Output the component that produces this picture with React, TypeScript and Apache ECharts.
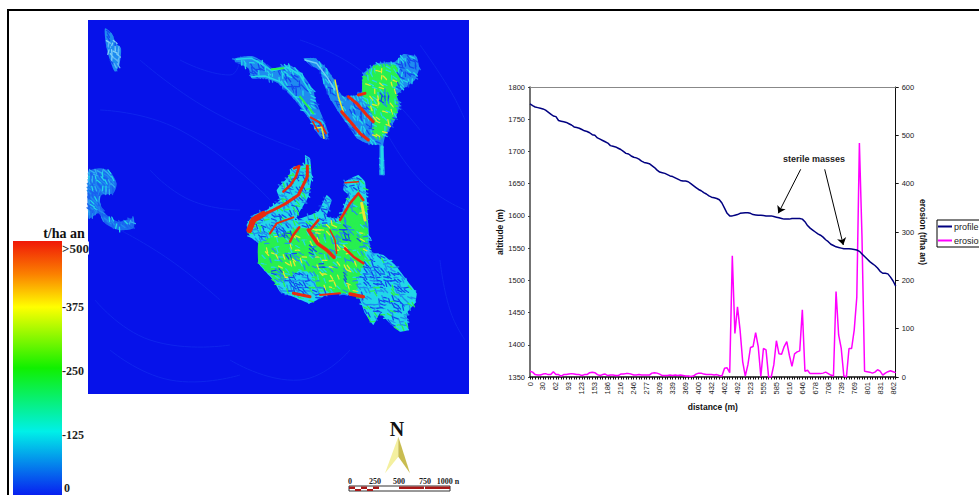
import React, { useEffect, useRef } from "react";
import * as echarts from "echarts";

const distanceLabels = ["0","30","62","93","123","153","186","216","246","277","309","339","369","400","432","462","492","523","555","585","616","646","678","708","739","769","801","831","862"];
const profile = [1774,1771,1769,1768,1767,1766,1764,1761,1758,1755,1754,1748,1747,1746,1745,1743,1741,1738,1737,1736,1734,1732,1731,1729,1726,1725,1721,1719,1717,1715,1713,1709,1708,1707,1705,1703,1700,1697,1696,1693,1691,1690,1688,1685,1683,1682,1681,1678,1675,1671,1668,1667,1666,1664,1662,1661,1659,1657,1655,1654,1654,1653,1650,1647,1644,1641,1639,1636,1634,1631,1629,1628,1627,1625,1620,1612,1604,1600,1600,1601,1602,1604,1604.5,1605,1605,1604,1602,1601.5,1601,1601,1600.5,1600,1600,1600,1599,1598,1597,1596,1595,1595,1595,1596,1596,1596,1596,1595,1591,1585,1581,1578,1575,1572,1570,1567,1563,1560,1556,1554,1552,1551,1550,1549,1549,1549,1548.5,1548,1547,1545,1541,1537,1533,1529,1526,1523,1519,1514,1511,1511,1510,1505,1499,1491];
const erosion = [12,10,5,4,4,6,7,5,5,11,5,5,2,5,5,6,7,6,5,5,3,5,5,9,10,9,5,3,5,6,3,4,4,3,3,6,6,7,7,6,4,4,5,4,4,4,4,8,9,8,6,3,3,3,4,3,4,3,4,3,2,2,1,2,6,8,8,6,5,5,5,4,5,3,2,18,19,9,251,90,145,97,32,2,25,61,63,92,63,1,59,56,0,0,25,75,48,47,63,73,45,22,48,52,54,139,12,14,7,7,7,7,7,8,10,7,4,2,177,87,59,2,0,59,59,97,165,484,290,12,11,10,8,10,15,12,4,8,11,13,11,9];
const altitudeRange = [1350, 1800];
const erosionRange = [0, 600];
const colorbarLabels = [">500", "375", "250", "125", "0"];
const scaleLabels = ["0", "250", "500", "750", "1000 n"];

const categories = profile.map((_, i) => (i % 5 === 0 ? distanceLabels[i / 5] : ""));
const SANS = "'Liberation Sans', Arial, sans-serif";
const SERIF = "'Liberation Serif', 'DejaVu Serif', serif";

type P = number[];
const map = (ox: number, oy: number, pts: P[]) => pts.map(([x, y]) => [ox + x / 3, oy + y / 3]);
const poly = (ox: number, oy: number, pts: P[], fill: string, smooth = 0.25) => ({
  type: "polygon", silent: true, shape: { points: map(ox, oy, pts), smooth }, style: { fill },
});
const stroke = (ox: number, oy: number, pts: P[], color: string, lineWidth = 1.5) => ({
  type: "polyline", silent: true, shape: { points: map(ox, oy, pts) },
  style: { stroke: color, lineWidth, fill: "none", lineJoin: "round", lineCap: "round" },
});

const BG = "#0612ea", BLUE = "#1248f0", MID = "#1f8cf0", CYAN = "#22d8e8", GREEN = "#28f050", YEL = "#e8e830", RED = "#e82a10";

const inside = (px: number, py: number, pts: P[]) => {
  let c = false;
  for (let i = 0, j = pts.length - 1; i < pts.length; j = i++) {
    const [xi, yi] = pts[i], [xj, yj] = pts[j];
    if (yi > py !== yj > py && px < ((xj - xi) * (py - yi)) / (yj - yi) + xi) c = !c;
  }
  return c;
};
const grain = (x: number, y: number) => {
  const v = Math.sin(x * 12.9898 + y * 78.233) * 43758.5453;
  return v - Math.floor(v);
};
type Hole = number[];
const texture = (outline: P[], core: P[] | null, holes: Hole[], rim: string[], corePal: string[], dir: number, w = 1.3) => {
  const xs = outline.map((p) => p[0]), ys = outline.map((p) => p[1]);
  const out: any[] = [];
  const step = 3.4;
  for (let x = Math.min(...xs); x < Math.max(...xs); x += step) {
    for (let y = Math.min(...ys); y < Math.max(...ys); y += step) {
      if (!inside(x, y, outline)) continue;
      const g = grain(x, y), h = grain(y + 3.1, x + 7.7);
      const inHole = holes.some(([cx, cy, rx, ry]) => ((x - cx) / rx) ** 2 + ((y - cy) / ry) ** 2 < 1);
      const pal = inHole ? [BLUE, BLUE, MID, BLUE, MID, CYAN] : core && inside(x, y, core) ? corePal : rim;
      const a = dir + (h - 0.5) * 1.6;
      out.push({
        type: "line", silent: true,
        shape: { x1: x - Math.cos(a) * 2.4, y1: y - Math.sin(a) * 2.4, x2: x + Math.cos(a) * 2.4, y2: y + Math.sin(a) * 2.4 },
        style: { stroke: pal[Math.floor(g * pal.length)], lineWidth: w, lineCap: "round" },
      });
    }
  }
  return out;
};
const H = (ox: number, oy: number, list: number[][]) => list.map(([x, y, rx, ry]) => [ox + x / 3, oy + y / 3, rx / 3, ry / 3]);

const faint = [
  [[140,60],[210,110],[300,150]], [[100,110],[180,130],[270,200]], [[300,40],[360,70],[420,130]],
  [[380,120],[420,180],[465,210]], [[120,230],[170,260],[220,300]], [[95,300],[150,340],[230,345]],
  [[230,360],[300,380],[350,350]], [[440,260],[450,310],[465,340]], [[420,45],[450,90],[465,120]],
  [[150,170],[190,200],[240,210]], [[180,60],[230,75],[240,60]], [[110,350],[170,380],[240,375]],
];

const blobTL = [[75,40],[95,55],[108,85],[123,100],[118,150],[105,170],[90,135],[78,90]];
const blobL = [[12,35],[45,25],[75,35],[95,70],[85,100],[50,105],[45,125],[60,160],[100,185],[145,175],[145,205],[100,210],[60,190],[40,160],[12,175]];
const blobC = [[45,55],[95,48],[130,65],[155,85],[205,75],[240,95],[280,150],[285,175],[305,225],[322,270],[322,298],[300,290],[270,240],[220,175],[175,130],[130,115],[95,115],[85,85],[45,65]];
const blobD = [[250,55],[285,55],[320,85],[345,125],[365,170],[410,165],[425,155],[430,100],[470,70],[525,65],[550,42],[590,50],[598,85],[585,120],[545,150],[530,165],[540,195],[525,240],[495,290],[490,315],[495,405],[478,405],[478,315],[465,315],[440,310],[410,295],[380,250],[355,215],[330,175],[310,130],[300,90],[270,75]];
const coreD = [[430,110],[470,75],[525,75],[540,120],[525,150],[535,195],[515,245],[480,300],[462,290],[460,230],[430,175]];
const blobE = [[225,45],[240,55],[245,110],[235,170],[215,205],[195,240],[225,230],[265,215],[290,165],[305,180],[290,230],[330,235],[345,190],[355,165],[340,150],[345,125],[385,105],[405,125],[410,180],[415,250],[420,335],[460,345],[500,380],[530,420],[560,460],[555,490],[530,520],[535,570],[510,575],[475,545],[450,520],[430,555],[405,520],[385,470],[300,460],[240,490],[190,470],[150,455],[130,420],[85,370],[85,310],[60,290],[50,255],[70,225],[110,210],[150,180],[140,150],[175,110],[190,80],[225,75]];
const coreE = [[85,310],[130,290],[200,265],[235,265],[330,240],[385,165],[410,200],[415,300],[400,370],[385,420],[380,465],[300,455],[260,440],[250,400],[210,390],[155,425],[130,415],[85,365]];

const holesC = H(220, 40, [[120,92,28,14],[230,130,34,24],[285,205,10,20],[190,110,18,12]]);
const holesD = H(220, 40, [[565,78,24,26],[495,175,15,24],[425,200,22,12],[425,245,18,10],[330,140,8,22],[400,270,10,12]]);
const holesE = H(230, 140, [[100,285,16,18],[160,275,26,18],[170,225,25,14],[205,430,40,30],[350,275,15,28],[385,290,8,18],[440,410,44,30],[510,500,24,22],[515,455,12,12],[470,472,22,13],[250,330,12,15],[275,380,10,16],[345,410,8,16],[180,345,18,10],[140,395,14,10],[200,120,8,25],[370,145,18,12],[280,200,10,28],[500,400,18,12],[450,510,14,10]]);

const rimC = [MID, MID, CYAN, BLUE, MID, CYAN];
const palE = [CYAN, MID, CYAN, BLUE, GREEN, MID];
const coreEP = [GREEN, GREEN, CYAN, GREEN, YEL, GREEN, MID, GREEN];
const coreDP = [GREEN, GREEN, GREEN, CYAN, GREEN, YEL];

const mapElements: any[] = [
  { type: "rect", silent: true, shape: { x: 88, y: 20, width: 381, height: 374 }, style: { fill: BG } },
  ...faint.map((f) => ({ type: "polyline", silent: true, shape: { points: f, smooth: 0.5 }, style: { stroke: "#0e24ee", lineWidth: 1, fill: "none" } })),
  poly(80, 15, blobTL, MID),
  ...texture(map(80, 15, blobTL), null, [], [MID, "#60b8f8", BLUE, MID, "#80d0f8"], 0.1, 1.2),
  poly(85, 160, blobL, "#1a70f0"),
  ...texture(map(85, 160, blobL), null, [], ["#1a60f0", MID, "#30b0f0", "#1a60f0", CYAN, MID], 1, 1.2),
  poly(220, 40, blobC, MID),
  ...texture(map(220, 40, blobC), null, holesC, rimC, rimC, 0.8),
  stroke(220, 40, [[50,58],[95,55],[130,75],[155,92],[205,82],[240,105],[272,160]], CYAN, 1.5),
  stroke(220, 40, [[95,110],[135,108],[180,125],[225,170],[272,232]], CYAN, 1.5),
  stroke(220, 40, [[155,88],[190,85]], GREEN, 2), stroke(220, 40, [[240,170],[280,220]], GREEN, 2),
  stroke(220, 40, [[272,232],[300,248],[318,280]], RED, 2), stroke(220, 40, [[285,265],[305,262],[312,295]], YEL, 1.5),
  stroke(220, 40, [[278,245],[295,275]], RED, 1.5),
  poly(220, 40, blobD, MID, 0.1),
  poly(220, 40, coreD, GREEN),
  ...texture(map(220, 40, blobD), map(220, 40, coreD), holesD, rimC, coreDP, 1.0),
  stroke(220, 40, [[255,60],[290,70],[320,110],[345,150]], "#70d0f8", 1.5),
  stroke(220, 40, [[345,120],[355,170],[370,215]], YEL, 1.5),
  stroke(220, 40, [[385,170],[410,190],[440,225],[460,245]], RED, 3),
  stroke(220, 40, [[365,215],[395,250],[420,280],[445,300]], RED, 3),
  stroke(220, 40, [[415,165],[435,160]], RED, 3),
  stroke(220, 40, [[486,320],[486,400]], CYAN, 3),
  poly(230, 140, blobE, CYAN, 0.1),
  poly(230, 140, coreE, GREEN, 0.1),
  ...texture(map(230, 140, blobE), map(230, 140, coreE), holesE, palE, coreEP, 0.6),
  stroke(230, 140, [[395,190],[405,240]], YEL, 3),
  stroke(230, 140, [[60,275],[62,245],[95,226],[130,210],[165,192],[205,165],[232,110],[232,78]], RED, 3),
  stroke(230, 140, [[58,270],[70,240],[100,222]], RED, 6),
  stroke(230, 140, [[192,85],[208,78],[198,110],[182,135],[160,155]], RED, 2.5),
  stroke(230, 140, [[120,280],[140,250],[190,232]], RED, 2),
  stroke(230, 140, [[208,262],[190,285],[180,305]], RED, 2.5),
  stroke(230, 140, [[235,270],[262,310],[290,330],[312,352]], RED, 3.5),
  stroke(230, 140, [[240,270],[265,240]], RED, 2.5),
  stroke(230, 140, [[330,240],[360,190],[385,160],[400,180]], RED, 2.5),
  stroke(230, 140, [[345,325],[370,350],[400,370]], RED, 2.5),
  stroke(230, 140, [[300,270],[315,300],[320,340]], RED, 1.5),
  stroke(230, 140, [[190,460],[240,470]], RED, 3), stroke(230, 140, [[270,465],[330,460]], RED, 2),
  stroke(230, 140, [[360,462],[400,470]], RED, 3.5), stroke(230, 140, [[345,128],[385,125]], RED, 1.5),
];

const legendEls: any[] = [
  { type: "rect", silent: true, shape: { x: 13, y: 241, width: 49, height: 254 },
    style: { fill: new echarts.graphic.LinearGradient(0, 0, 0, 1, [
      { offset: 0, color: "#f01808" }, { offset: 0.13, color: "#fb8000" }, { offset: 0.26, color: "#ffff00" },
      { offset: 0.5, color: "#10f000" }, { offset: 0.75, color: "#00f0e8" }, { offset: 1, color: "#0820f0" },
    ]) } },
  { type: "text", silent: true, x: 64, y: 233, style: { text: "t/ha an", font: `bold 14px ${SERIF}`, fill: "#111", align: "center", verticalAlign: "middle" } },
  ...colorbarLabels.map((t, i) => ({
    type: "text", silent: true, x: 62, y: [248, 307, 371, 435, 488][i],
    style: {
      text: (i > 0 && i < 4 ? "-" : "") + t, font: `bold ${i === 0 ? 13 : 12}px ${SERIF}`, fill: "#222", align: "left", verticalAlign: "middle",
      backgroundColor: i === 0 ? "#fff" : undefined, padding: i === 4 ? [0, 0, 0, 2] : 0,
    },
  })),
  { type: "text", silent: true, x: 397, y: 429, style: { text: "N", font: `bold 20px ${SERIF}`, fill: "#111", align: "center", verticalAlign: "middle" } },
  poly(335, 410, [[190,80],[190,140],[150,190]], "#f4f0a0", 0),
  poly(335, 410, [[190,80],[225,190],[190,140]], "#c8bc50", 0),
  ...scaleLabels.map((t, i) => ({
    type: "text", silent: true, x: [350, 375, 399, 425, 448][i], y: 481,
    style: { text: t, font: `bold 8px ${SERIF}`, fill: "#222", align: "center", verticalAlign: "middle" },
  })),
  { type: "rect", silent: true, shape: { x: 349, y: 486, width: 101, height: 5 }, style: { fill: "#fff", stroke: "#333", lineWidth: 1 } },
  ...[[349,6],[361,6],[373,6],[399,25],[425,25]].map(([x, w]) => ({ type: "rect", silent: true, shape: { x, y: 486.5, width: w, height: 2.5 }, style: { fill: "#a81818" } })),
  ...[[355,6],[367,6]].map(([x, w]) => ({ type: "rect", silent: true, shape: { x, y: 489, width: w, height: 2 }, style: { fill: "#a81818" } })),
  { type: "line", silent: true, shape: { x1: 7, y1: 10, x2: 979, y2: 10 }, style: { stroke: "#000", lineWidth: 2 } },
  { type: "line", silent: true, shape: { x1: 8, y1: 9, x2: 8, y2: 495 }, style: { stroke: "#000", lineWidth: 2 } },
  { type: "text", silent: true, x: 814, y: 159, style: { text: "sterile masses", font: `bold 9px ${SANS}`, fill: "#222", align: "center", verticalAlign: "middle" } },
];

export default function App() {
  const ref = useRef<HTMLDivElement>(null);
  useEffect(() => {
    const chart = echarts.init(ref.current!, undefined, { renderer: "svg" });
    const tick = { color: "#222", fontSize: 7.5, fontFamily: SANS };
    const plain = (v: number) => String(v);
    const nameStyle = { color: "#111", fontSize: 8.5, fontWeight: "bold" as const, fontFamily: SANS };
    chart.setOption({
      animation: false,
      backgroundColor: "#fff",
      grid: { left: 530, top: 87, width: 365.7, height: 290 },
      legend: {
        left: 937, top: 220, orient: "vertical", itemWidth: 14, itemHeight: 2, itemGap: 5, padding: [2, 6, 2, 1],
        borderColor: "#000", borderWidth: 1, backgroundColor: "#fff",
        textStyle: { color: "#222", fontSize: 9, fontFamily: SANS, padding: [0, 0, 0, -3] },
        icon: "rect", data: ["profile", "erosion"],
      },
      xAxis: [
        {
          type: "category", data: categories, boundaryGap: false, name: "distance (m)", nameLocation: "middle", nameGap: 22, nameTextStyle: nameStyle,
          axisLine: { lineStyle: { color: "#111", width: 1.5 } },
          axisTick: { interval: 0, length: 2.5, lineStyle: { color: "#111" } },
          axisLabel: { ...tick, interval: 4, rotate: 90, margin: 5 }, splitLine: { show: false },
        },
        { type: "category", position: "top", data: categories, boundaryGap: false, axisLine: { lineStyle: { color: "#888", width: 1 } }, axisTick: { show: false }, axisLabel: { show: false }, splitLine: { show: false } },
      ],
      yAxis: [
        {
          type: "value", min: altitudeRange[0], max: altitudeRange[1], interval: 50, name: "altitude (m)", nameLocation: "middle", nameGap: 26, nameTextStyle: nameStyle,
          axisLine: { show: true, lineStyle: { color: "#444", width: 1.5 } }, axisTick: { show: true, length: 2, lineStyle: { color: "#444" } },
          axisLabel: { ...tick, margin: 5, formatter: plain }, splitLine: { show: false },
        },
        {
          type: "value", min: erosionRange[0], max: erosionRange[1], interval: 100, position: "right", name: "erosion (t/ha an)", nameLocation: "middle", nameGap: 22, nameRotate: -90, nameTextStyle: nameStyle,
          axisLine: { show: true, lineStyle: { color: "#111", width: 1 } }, axisTick: { show: true, length: 3, lineStyle: { color: "#111" } },
          axisLabel: { ...tick, margin: 6, formatter: plain }, splitLine: { show: false },
        },
      ],
      series: [
        {
          name: "profile", type: "line", data: profile, yAxisIndex: 0, showSymbol: false, lineStyle: { color: "#000080", width: 1.5 }, itemStyle: { color: "#000080" }, z: 3,
          markLine: {
            silent: true, symbol: ["none", "arrow"], symbolSize: 7, label: { show: false }, animation: false,
            lineStyle: { color: "#000", width: 1, type: "solid" },
            data: [[{ x: 800.7, y: 169.3 }, { x: 778.3, y: 213.3 }], [{ x: 824.7, y: 169.3 }, { x: 843.3, y: 245 }]],
          },
        },
        { name: "erosion", type: "line", data: erosion, yAxisIndex: 1, showSymbol: false, lineStyle: { color: "#ff00ff", width: 1.5 }, itemStyle: { color: "#ff00ff" }, z: 2 },
      ],
      graphic: [...mapElements, ...legendEls],
    });
    return () => chart.dispose();
  }, []);
  return <div ref={ref} style={{ position: "fixed", left: 0, top: 0, width: 979, height: 495 }} />;
}
